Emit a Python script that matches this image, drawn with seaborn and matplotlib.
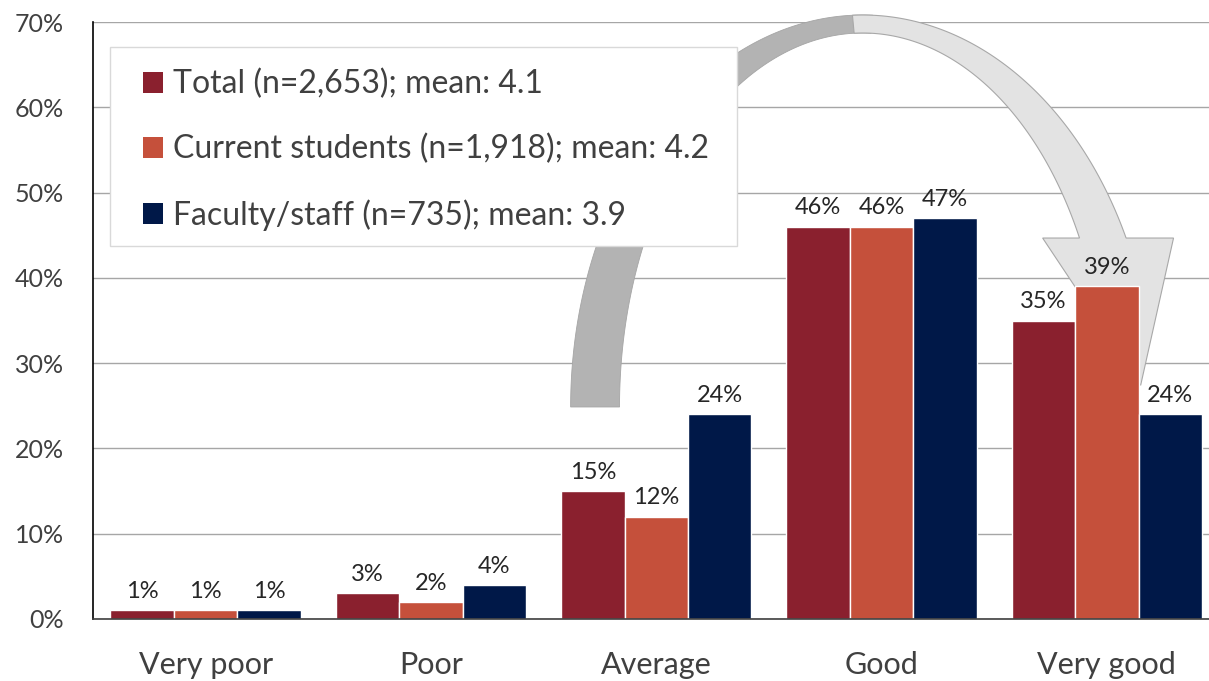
import numpy as np
import pandas as pd
import matplotlib
matplotlib.use("Agg")
import matplotlib.pyplot as plt
from matplotlib.patches import Polygon, Patch, Rectangle
from matplotlib.ticker import MultipleLocator, FuncFormatter
import seaborn as sns

# data
ratings = ["Very poor", "Poor", "Average", "Good", "Very good"]
groups = ["Total (n=2,653); mean: 4.1",
          "Current students (n=1,918); mean: 4.2",
          "Faculty/staff (n=735); mean: 3.9"]
total = [1, 3, 15, 46, 35]
students = [1, 2, 12, 46, 39]
faculty = [1, 4, 24, 47, 24]
colors = ["#8A202E", "#C5503B", "#001848"]

df = pd.DataFrame({
    "rating": ratings * 3,
    "group": [groups[0]] * 5 + [groups[1]] * 5 + [groups[2]] * 5,
    "pct": total + students + faculty,
})

sns.set_style("white")
plt.rcParams["font.family"] = ["Lato", "DejaVu Sans"]

fig = plt.figure(figsize=(12.09, 6.81), dpi=100)
ax = fig.add_axes([93 / 1209, 62 / 681, 1126.5 / 1209, 597 / 681])

sns.barplot(data=df, x="rating", y="pct", hue="group", order=ratings,
            hue_order=groups, palette=colors, width=0.845, errorbar=None,
            edgecolor="white", linewidth=1, saturation=1, ax=ax, legend=False)

for cont in ax.containers:
    ax.bar_label(cont, labels=[f"{v:.0f}%" for v in cont.datavalues],
                 padding=6, fontsize=17, color="#262626")

ax.set_xlim(-0.5, 4.5)
ax.set_ylim(0, 70)
ax.yaxis.set_major_locator(MultipleLocator(10))
ax.yaxis.set_minor_locator(MultipleLocator(5))
ax.yaxis.set_major_formatter(FuncFormatter(lambda v, p: f"{v:.0f}%"))
ax.set_axisbelow(True)
ax.grid(axis="y", which="major", color="#a6a6a6", linewidth=1)
ax.grid(axis="x", visible=False)
ax.tick_params(axis="y", which="both", direction="out", length=7, width=1,
               color="black", labelsize=18, labelcolor="#404040", pad=14)
ax.tick_params(axis="y", which="minor", length=6)
ax.tick_params(axis="x", length=0, labelsize=22, labelcolor="#404040", pad=23)
ax.set_xlabel("")
ax.set_ylabel("")
for s in ["top", "right"]:
    ax.spines[s].set_visible(False)
ax.spines["left"].set_color("black")
ax.spines["bottom"].set_color("#404040")
ax.spines["left"].set_linewidth(1.2)
ax.spines["bottom"].set_linewidth(1.2)

# curved arrow from "Average" over to "Very good"
cx, cy = 2.916, 24.86
a_out, b_out = 1.296, 45.96
a_in, b_in = 1.079, 43.85
yb = 44.67
head_x0, head_x1 = 3.715, 4.296
tip = (4.15, 27.4)


def arc(a, b, t0, t1, n=120):
    t = np.radians(np.linspace(t0, t1, n))
    return np.column_stack([cx + a * np.cos(t), cy + b * np.sin(t)])


to = np.degrees(np.arcsin((yb - cy) / b_out))
ti = np.degrees(np.arcsin((yb - cy) / b_in))
back = np.vstack([arc(a_out, b_out, 180, 88), arc(a_in, b_in, 88, 180)])
front = np.vstack([arc(a_out, b_out, 92, to),
                   [[head_x1, yb], tip, [head_x0, yb]],
                   arc(a_in, b_in, ti, 92)])
ax.add_patch(Polygon(back, closed=True, facecolor="#b3b3b3",
                     edgecolor="#a5a5a5", lw=0.6, zorder=0.8, clip_on=False))
ax.add_patch(Polygon(front, closed=True, facecolor="#e3e3e3",
                     edgecolor="#a8a8a8", lw=0.8, zorder=0.85, clip_on=False))

# legend box
ax.add_patch(Rectangle((110 / 1209, 1 - 246 / 681), 627 / 1209, 199 / 681,
                       transform=fig.transFigure, facecolor="white",
                       edgecolor="#d9d9d9", lw=1, zorder=4.5, clip_on=False))
handles = [Patch(facecolor=c, edgecolor="none") for c in colors]
leg = ax.legend(handles, groups, loc="upper left",
                bbox_to_anchor=(143 / 1209, 1 - 69 / 681),
                bbox_transform=fig.transFigure, fontsize=23, frameon=False,
                borderpad=0, labelspacing=1.08, handlelength=0.63,
                handleheight=0.63, handletextpad=0.31, borderaxespad=0)
leg.set_zorder(5)
for t in leg.get_texts():
    t.set_color("#404040")

fig.savefig("out.png", dpi=100)
